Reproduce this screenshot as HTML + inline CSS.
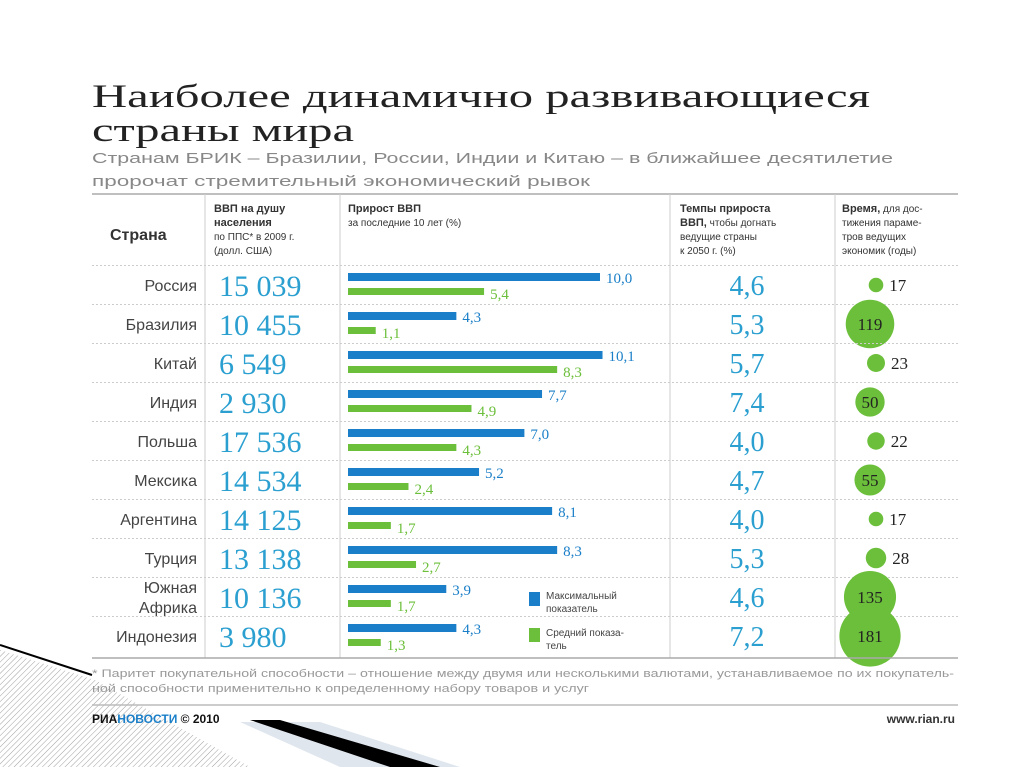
<!DOCTYPE html>
<html><head><meta charset="utf-8"><style>
html,body{margin:0;padding:0;background:#fff;}
svg{display:block;font-family:"Liberation Sans",sans-serif;}
</style></head><body>
<svg id="chart" width="1024" height="767" viewBox="0 0 1024 767">
<defs>
<pattern id="hatch" width="4" height="4" patternUnits="userSpaceOnUse" patternTransform="rotate(45)">
<line x1="0" y1="0" x2="0" y2="4" stroke="#777" stroke-width="1"/>
</pattern>
</defs>
<g>
<polygon points="0,650 95,680 250,767 0,767" fill="url(#hatch)" opacity="0.7"/>
<polygon points="240,722 320,722 460,767 340,767" fill="#dfe6ee"/>
<polygon points="250,720 280,720 440,767 390,767" fill="#000"/>
<line x1="0" y1="645" x2="92" y2="675" stroke="#000" stroke-width="2"/>
</g>
<text x="92" y="107" font-family="Liberation Serif, serif" font-size="33" fill="#222" textLength="778" lengthAdjust="spacingAndGlyphs">Наиболее динамично развивающиеся</text>
<text x="92" y="141" font-family="Liberation Serif, serif" font-size="33" fill="#222" textLength="262" lengthAdjust="spacingAndGlyphs">страны мира</text>
<text x="92" y="163" font-size="15" fill="#888" textLength="801" lengthAdjust="spacingAndGlyphs">Странам БРИК – Бразилии, России, Индии и Китаю – в ближайшее десятилетие</text>
<text x="92" y="186" font-size="15" fill="#888" textLength="498" lengthAdjust="spacingAndGlyphs">пророчат стремительный экономический рывок</text>

<line x1="92" y1="194" x2="958" y2="194" stroke="#aaa" stroke-width="1.5"/>
<g fill="#333">
<text x="110" y="240" font-size="16" font-weight="bold">Страна</text>
<text x="214" y="212" font-size="11" font-weight="bold">ВВП на душу</text>
<text x="214" y="226" font-size="11" font-weight="bold">населения</text>
<text x="214" y="240" font-size="10">по ППС* в 2009 г.</text>
<text x="214" y="254" font-size="10">(долл. США)</text>
<text x="348" y="212" font-size="11" font-weight="bold">Прирост ВВП</text>
<text x="348" y="226" font-size="10">за последние 10 лет (%)</text>
<text x="680" y="212" font-size="11" font-weight="bold">Темпы прироста</text>
<text x="680" y="226" font-size="10"><tspan font-weight="bold" font-size="11">ВВП,</tspan>  чтобы догнать</text>
<text x="680" y="240" font-size="10">ведущие страны</text>
<text x="680" y="254" font-size="10">к 2050 г. (%)</text>
<text x="842" y="212" font-size="10"><tspan font-weight="bold" font-size="11">Время,</tspan> для дос-</text>
<text x="842" y="226" font-size="10">тижения параме-</text>
<text x="842" y="240" font-size="10">тров ведущих</text>
<text x="842" y="254" font-size="10">экономик (годы)</text>
</g>
<g id="grid" stroke="#ccc">
<line x1="205" y1="194" x2="205" y2="658"/><line x1="340" y1="194" x2="340" y2="658"/>
<line x1="670" y1="194" x2="670" y2="658"/><line x1="835" y1="194" x2="835" y2="658"/>
</g>
<g id="rows"></g>
<line x1="92" y1="658" x2="958" y2="658" stroke="#aaa" stroke-width="1.5"/>
<g>
<rect x="529" y="592" width="11" height="14" fill="#1a7fc8"/>
<text x="546" y="599" font-size="10" fill="#444">Максимальный</text>
<text x="546" y="612" font-size="10" fill="#444">показатель</text>
<rect x="529" y="628" width="11" height="14" fill="#6bbf3a"/>
<text x="546" y="636" font-size="10" fill="#444">Средний показа-</text>
<text x="546" y="649" font-size="10" fill="#444">тель</text>
</g>
<text x="92" y="677" font-size="11" fill="#999" textLength="862" lengthAdjust="spacingAndGlyphs">* Паритет покупательной способности – отношение между двумя или несколькими валютами, устанавливаемое по их покупатель-</text>
<text x="92" y="692" font-size="11" fill="#999" textLength="497" lengthAdjust="spacingAndGlyphs">ной способности применительно к определенному набору товаров и услуг</text>
<line x1="92" y1="705" x2="958" y2="705" stroke="#bbb" stroke-width="1.5"/>
<text x="92" y="723" font-size="12" font-weight="bold" fill="#111">РИА<tspan fill="#1a7fc8">НОВОСТИ</tspan> © 2010</text>
<text x="955" y="723" font-size="12" font-weight="bold" fill="#333" text-anchor="end">www.rian.ru</text>
</svg>
<script>
const countries=["Россия","Бразилия","Китай","Индия","Польша","Мексика","Аргентина","Турция","Южная Африка","Индонезия"];
const gdpPerCapita=["15 039","10 455","6 549","2 930","17 536","14 534","14 125","13 138","10 136","3 980"];
const maxGrowth=[10.0,4.3,10.1,7.7,7.0,5.2,8.1,8.3,3.9,4.3];
const avgGrowth=[5.4,1.1,8.3,4.9,4.3,2.4,1.7,2.7,1.7,1.3];
const neededGrowth=[4.6,5.3,5.7,7.4,4.0,4.7,4.0,5.3,4.6,7.2];
const years=[17,119,23,50,22,55,17,28,135,181];
const NS="http://www.w3.org/2000/svg";
const g=document.getElementById('rows');
const x0=348, xs=25.2;
const xScale=v=>x0+v*xs;
const rowY=i=>285+i*39;
const rScale=v=>Math.max(6,Math.sqrt(v)*2.5-3);
function mk(tag,attrs,txt){const e=document.createElementNS(NS,tag);for(const k in attrs)e.setAttribute(k,attrs[k]);if(txt!==undefined)e.textContent=txt;g.appendChild(e);return e;}
const fmt=v=>v.toFixed(1).replace('.',',');
countries.forEach((c,i)=>{
  const cy=rowY(i);
  const l=mk('line',{x1:92,x2:958,y1:cy-19.5,y2:cy-19.5,stroke:'#ccc','stroke-dasharray':'2,2'});
  
  
  const parts=c.split(' ');
  if(parts.length>1){
    const t1=mk('text',{x:197,y:cy-4,'font-size':16,fill:'#444','text-anchor':'end'},parts[0]);
    
    
    const t2=mk('text',{x:197,y:cy+16,'font-size':16,fill:'#444','text-anchor':'end'},parts[1]);
    
    
  } else {
    const t=mk('text',{x:197,y:cy+6,'font-size':16,fill:'#444','text-anchor':'end'},c);
    
    
  }
  const gv=mk('text',{x:219,y:cy+11,'font-size':30,fill:'#2a9fd0','font-family':'Liberation Serif, serif'},gdpPerCapita[i]);
  
  
  const b1=mk('rect',{x:x0,y:cy-12,width:xScale(maxGrowth[i])-x0,height:8,fill:'#1a7fc8'});
  
  
  const l1=mk('text',{x:xScale(maxGrowth[i])+6,y:cy-2,'font-size':15,fill:'#1a7fc8','font-family':'Liberation Serif, serif'},fmt(maxGrowth[i]));
  
  
  const b2=mk('rect',{x:x0,y:cy+3,width:xScale(avgGrowth[i])-x0,height:7,fill:'#6bbf3a'});
  
  
  const l2=mk('text',{x:xScale(avgGrowth[i])+6,y:cy+14,'font-size':15,fill:'#6bbf3a','font-family':'Liberation Serif, serif'},fmt(avgGrowth[i]));
  
  
  const nv=mk('text',{x:747,y:cy+10,'font-size':28,fill:'#2a9fd0','font-family':'Liberation Serif, serif','text-anchor':'middle'},fmt(neededGrowth[i]));
  
  
  const r=rScale(years[i]);
  const big=r>12;
  const cx=big?870:876;
  const ci=mk('circle',{cx:cx,cy:cy,r:r,fill:'#6bbf3a'});
  
  
  const yt=mk('text',{x:big?cx:cx+r+6,y:cy+6,'font-size':17,fill:'#222','font-family':'Liberation Serif, serif','text-anchor':big?'middle':'start'},years[i]);
  
  
});
</script>
</body></html>
